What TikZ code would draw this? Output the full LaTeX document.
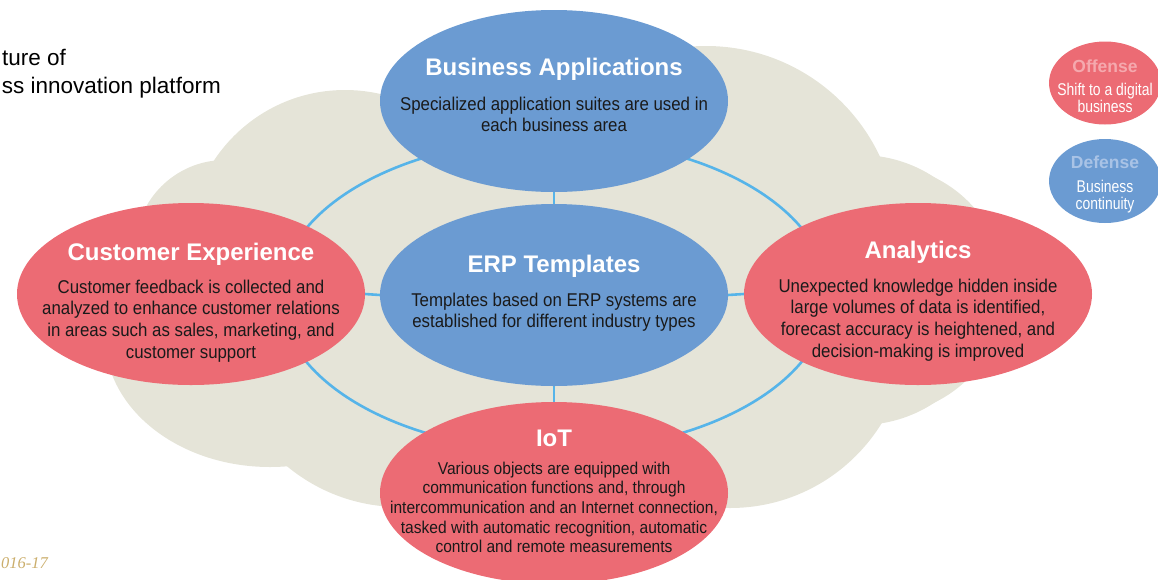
\documentclass[tikz,border=0pt]{standalone}
\usepackage{fontspec}
\setmainfont{Liberation Sans}
\newfontfamily\bodycond[FakeStretch=0.91]{Liberation Sans}
\newfontfamily\legcond[FakeStretch=0.82]{Liberation Sans}
\newfontfamily\yearfont{Liberation Serif}
\usetikzlibrary{shapes.geometric}

\definecolor{cloudbg}{HTML}{E5E4D8}
\definecolor{ellblue}{HTML}{6B9BD2}
\definecolor{ellred}{HTML}{EC6B74}
\definecolor{ringblue}{HTML}{56B4E9}
\definecolor{inktext}{HTML}{1A1A1A}
\definecolor{offpink}{HTML}{F5A9AE}
\definecolor{defblue}{HTML}{A9C3E6}
\definecolor{yeargold}{HTML}{CBAE6C}

\pgfdeclarelayer{cloudlayer}
\pgfdeclarelayer{linklayer}
\pgfsetlayers{cloudlayer,linklayer,main}

% centred multi-line block whose baseline is the first line
\newcommand{\mlines}[1]{\begin{tabular}[t]{@{}c@{}}#1\end{tabular}}

\begin{document}
\begin{tikzpicture}[x=1pt,y=-1pt,
  blob/.style={ellipse, inner sep=0pt, outer sep=0pt,
    minimum width=348pt, minimum height=182pt},
  blueblob/.style={blob, fill=ellblue},
  redblob/.style={blob, fill=ellred},
  legblob/.style={ellipse, inner sep=0pt, outer sep=0pt,
    minimum width=112pt, minimum height=83pt},
  heading/.style={anchor=base, inner sep=0pt, text=white,
    font=\bfseries\fontsize{24}{28}\selectfont},
  body/.style={anchor=base, inner sep=0pt, text=inktext,
    font=\bodycond\fontsize{18.5}{21.7}\selectfont},
  iotbody/.style={body, font=\bodycond\fontsize{17.1}{19.7}\selectfont},
  legtitle/.style={anchor=base, inner sep=0pt,
    font=\bfseries\fontsize{17.5}{20}\selectfont},
  legbody/.style={anchor=base, inner sep=0pt, text=white,
    font=\legcond\fontsize{17}{16}\selectfont},
  link/.style={draw=ringblue, line width=2.6pt},
  puff/.style={fill=cloudbg}
]
\useasboundingbox (0,0) rectangle (1158,579);
\clip (0,0) rectangle (1158,579);

% ---- platform ellipses ----
\node[blueblob] (ba)  at (554,101) {};
\node[blueblob] (erp) at (554,295) {};
\node[redblob]  (ce)  at (191,294) {};
\node[redblob]  (an)  at (918,294) {};
\node[redblob]  (iot) at (554,493) {};

% ---- cloud behind everything ----
\begin{pgfonlayer}{cloudlayer}
  \fill[puff] (345,247) circle[radius=157pt];
  \fill[puff] (225,250) circle[radius=90pt];
  \fill[puff] (270,337) ellipse[x radius=165pt, y radius=130pt];
  \fill[puff] (400,330) circle[radius=177pt];
  \fill[puff] (730,330) circle[radius=178pt];
  \fill[puff] (880,290) circle[radius=125pt];
  \fill[puff] (706,238) circle[radius=192pt];
  \fill[puff] (860,290) circle[radius=135pt];
  \fill[puff] (554,295) ellipse[x radius=300pt, y radius=200pt];
\end{pgfonlayer}

% ---- ring and spokes ----
\begin{pgfonlayer}{linklayer}
  \draw[link] (erp.center) ellipse[x radius=274pt, y radius=156pt];
  \draw[link] (ba.south) -- (erp.north);
  \draw[link] (ce.east) -- (erp.west);
  \draw[link] (erp.east) -- (an.west);
  \draw[link] (erp.south) -- (iot.north);
\end{pgfonlayer}

% ---- texts in the ellipses ----
\node[heading] (ba-t) at (554,75) {Business Applications};
\node[body] (ba-b) at (554,110) {\mlines{Specialized application suites are used in\\each business area}};

\node[heading] (erp-t) at (554,272) {ERP Templates};
\node[body] (erp-b) at (554,306) {\mlines{Templates based on ERP systems are\\established for different industry types}};

\node[heading] (ce-t) at (191,260) {Customer Experience};
\node[body] (ce-b) at (191,293) {\mlines{Customer feedback is collected and\\analyzed to enhance customer relations\\in areas such as sales, marketing, and\\customer support}};

\node[heading] (an-t) at (918,258) {Analytics};
\node[body] (an-b) at (918,292) {\mlines{Unexpected knowledge hidden inside\\large volumes of data is identified,\\forecast accuracy is heightened, and\\decision-making is improved}};

\node[heading] (iot-t) at (554,446) {IoT};
\node[iotbody] (iot-b) at (554,474) {\mlines{Various objects are equipped with\\communication functions and, through\\intercommunication and an Internet connection,\\tasked with automatic recognition, automatic\\control and remote measurements}};

% ---- legend ----
\node[legblob, fill=ellred] (off) at (1105,83) {};
\node[legtitle, text=offpink] (off-t) at (1105,72) {Offense};
\node[legbody] (off-b) at (1105,95) {\mlines{Shift to a digital\\business}};

\node[legblob, fill=ellblue, minimum height=84pt] (def) at (1105,181) {};
\node[legtitle, text=defblue] (def-t) at (1105,168) {Defense};
\node[legbody] (def-b) at (1105,192) {\mlines{Business\\continuity}};

% ---- heading and footer fragments ----
\node[anchor=base east, inner sep=0pt, text=black,
  font=\fontsize{22.5}{27}\selectfont] (hd1) at (66,65) {ture of};
\node[anchor=base east, inner sep=0pt, text=black,
  font=\fontsize{22.5}{27}\selectfont] (hd2) at (221,93) {ss innovation platform};
\node[anchor=base east, inner sep=0pt, text=yeargold,
  font=\yearfont\itshape\fontsize{16.5}{20}\selectfont] (yr) at (48,568) {016-17};
\end{tikzpicture}
\end{document}
